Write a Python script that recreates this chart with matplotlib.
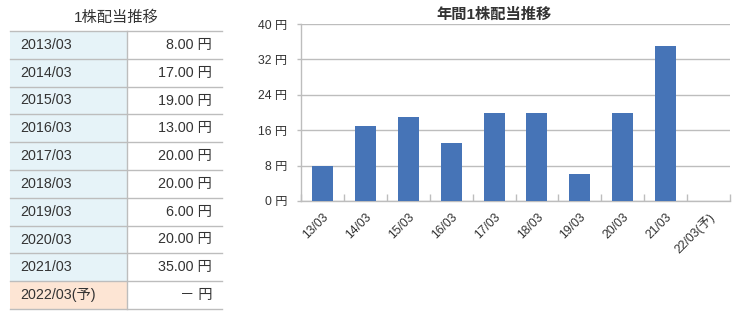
import matplotlib
matplotlib.use("Agg")
import matplotlib.pyplot as plt
from matplotlib.patches import Rectangle
import numpy as np

plt.rcParams['font.family'] = ['Liberation Sans', 'Noto Sans CJK JP']

# data
periods = ["2013/03", "2014/03", "2015/03", "2016/03", "2017/03",
           "2018/03", "2019/03", "2020/03", "2021/03", "2022/03(予)"]
short_labels = ["13/03", "14/03", "15/03", "16/03", "17/03",
                "18/03", "19/03", "20/03", "21/03", "22/03(予)"]
dividends = [8.0, 17.0, 19.0, 13.0, 20.0, 20.0, 6.0, 20.0, 35.0, None]
forecast = [False] * 9 + [True]
y_ticks = [0, 8, 16, 24, 32, 40]

W, H = 738, 313
TEXT = "#333333"
GRID = "#BDBDBD"
BAR = "#4674B7"

fig = plt.figure(figsize=(W / 100, H / 100), dpi=100)

# ---- table (pixel coordinates) ----
tab = fig.add_axes([0, 0, 1, 1])
tab.set_xlim(0, W)
tab.set_ylim(H, 0)
tab.axis("off")

x0, x1, x2 = 10, 127, 222
row_top, row_h = 31, 27.8
tab.text((x0 + x2) / 2, 18, "1株配当推移", ha="center", va="center",
         fontsize=11, color=TEXT)
for i, (p, v, fc) in enumerate(zip(periods, dividends, forecast)):
    y = row_top + i * row_h
    left_c = "#FDE5D4" if fc else "#E6F3F8"
    tab.add_patch(Rectangle((x0, y), x1 - x0, row_h, facecolor=left_c,
                            edgecolor="none"))
    tab.plot([x0, x2], [y + row_h, y + row_h], color=GRID, lw=1)
    val = "－ 円" if v is None else f"{v:.2f} 円"
    tab.text(x0 + 10, y + row_h / 2, p, ha="left", va="center",
             fontsize=10.3, color=TEXT)
    tab.text(x2 - 10, y + row_h / 2, val, ha="right", va="center",
             fontsize=10.3, color=TEXT)
tab.plot([x0, x2], [row_top, row_top], color=GRID, lw=1)
tab.plot([x1, x1], [row_top, row_top + row_h * len(periods)], color=GRID, lw=1)

# ---- bar chart ----
ax = fig.add_axes([301 / W, (H - 201) / H, 429 / W, 177 / H])
x = np.arange(len(short_labels))
heights = [0 if v is None else v for v in dividends]
ax.bar(x, heights, width=0.49, color=BAR, zorder=3)
ax.set_xlim(-0.5, len(short_labels) - 0.5)
ax.set_ylim(0, 40)
ax.set_yticks(y_ticks)
ax.set_yticklabels([f"{t} 円" for t in y_ticks])
ax.yaxis.grid(True, color=GRID, lw=1, zorder=0)
ax.set_xticks(x)
ax.set_xticklabels(short_labels, rotation=45, ha="right",
                   rotation_mode="anchor")
ax.set_xticks(np.arange(len(short_labels) + 1) - 0.5, minor=True)
ax.tick_params(axis="x", which="major", length=0, pad=7, labelsize=8.8,
               labelcolor=TEXT)
ax.tick_params(axis="x", which="minor", direction="in", length=5,
               color=GRID, width=1)
ax.tick_params(axis="y", length=3, color=GRID, width=1, pad=7,
               labelsize=8.8, labelcolor=TEXT)
for s in ["top", "right"]:
    ax.spines[s].set_visible(False)
for s in ["left", "bottom"]:
    ax.spines[s].set_color(GRID)
    ax.spines[s].set_linewidth(1)

fig.text(494 / W, 1 - 15 / H, "年間1株配当推移", ha="center", va="center",
         fontsize=11, fontweight="bold", color=TEXT)

fig.savefig("out.png", dpi=100)
